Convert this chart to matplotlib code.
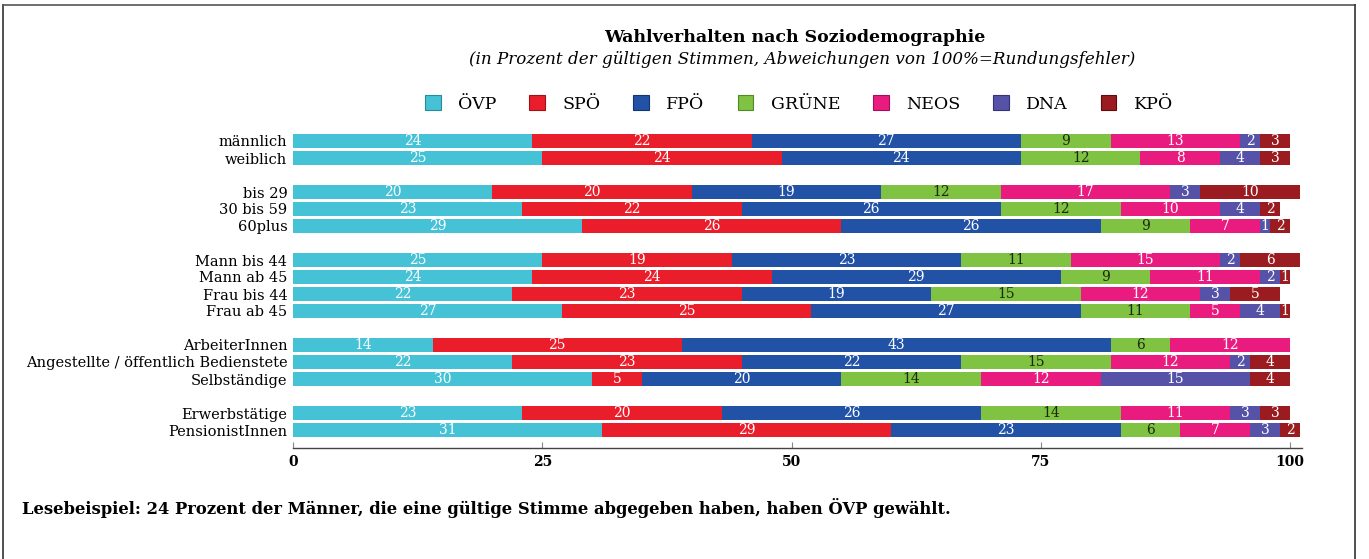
import matplotlib
matplotlib.use("Agg")
import matplotlib.pyplot as plt
from matplotlib.patches import Patch
from matplotlib.lines import Line2D
import numpy as np

plt.rcParams['font.family'] = ['DejaVu Serif']

# ---- data ----
categories = ['männlich', 'weiblich',
              'bis 29', '30 bis 59', '60plus',
              'Mann bis 44', 'Mann ab 45', 'Frau bis 44', 'Frau ab 45',
              'ArbeiterInnen', 'Angestellte / öffentlich Bedienstete', 'Selbständige',
              'Erwerbstätige', 'PensionistInnen']
# group index of each category (a blank row sits between groups)
groups = [0, 0, 1, 1, 1, 2, 2, 2, 2, 3, 3, 3, 4, 4]

parties = ['ÖVP', 'SPÖ', 'FPÖ', 'GRÜNE', 'NEOS', 'DNA', 'KPÖ']
oevp = [24, 25, 20, 23, 29, 25, 24, 22, 27, 14, 22, 30, 23, 31]
spoe = [22, 24, 20, 22, 26, 19, 24, 23, 25, 25, 23, 5, 20, 29]
fpoe = [27, 24, 19, 26, 26, 23, 29, 19, 27, 43, 22, 20, 26, 23]
gruene = [9, 12, 12, 12, 9, 11, 9, 15, 11, 6, 15, 14, 14, 6]
neos = [13, 8, 17, 10, 7, 15, 11, 12, 5, 12, 12, 12, 11, 7]
dna = [2, 4, 3, 4, 1, 2, 2, 3, 4, 0, 2, 15, 3, 3]
kpoe = [3, 3, 10, 2, 2, 6, 1, 5, 1, 0, 4, 4, 3, 2]
series = [oevp, spoe, fpoe, gruene, neos, dna, kpoe]

colors = ['#45c2d5', '#ea1d2a', '#2152a6', '#80c242', '#ea1b7e', '#5552a8', '#9a1c20']
edge_colors = ['#2a8a98', '#a01018', '#133570', '#4f8a22', '#a0105a', '#35327a', '#5e0c10']
label_colors = ['white', 'white', 'white', '#1a2a10', 'white', 'white', 'white']

# ---- figure ----
W, H = 1369, 559
fig = plt.figure(figsize=(W / 100, H / 100), dpi=100)

ax_left, ax_right = 293, 1302
ax_top, ax_bottom = 131, 448
ax = fig.add_axes([ax_left / W, 1 - ax_bottom / H,
                   (ax_right - ax_left) / W, (ax_bottom - ax_top) / H])

ypos = np.arange(len(categories)) + np.array(groups)

left = np.zeros(len(categories))
for vals, col, lcol in zip(series, colors, label_colors):
    vals = np.array(vals, dtype=float)
    ax.barh(ypos, vals, left=left, height=0.82, color=col, edgecolor='none')
    for y, l, v in zip(ypos, left, vals):
        if v > 0:
            ax.text(l + v / 2, y, f'{int(v)}', ha='center', va='center',
                    fontsize=10, color=lcol)
    left += vals

ax.set_xlim(0, 101.2)
ax.set_ylim(17 + (ax_bottom - 430) / 17, -(141 - ax_top) / 17)
ax.set_yticks(ypos)
ax.set_yticklabels(categories, fontsize=10.5)
ax.tick_params(axis='y', length=0, pad=4)
ax.set_xticks([0, 25, 50, 75, 100])
ax.set_xticklabels(['0', '25', '50', '75', '100'], fontsize=10, fontweight='bold')
ax.tick_params(axis='x', direction='in', length=4, width=0.8, color='#888888', pad=5)
for s in ['top', 'right', 'left']:
    ax.spines[s].set_visible(False)
ax.spines['bottom'].set_color('#444444')
ax.spines['bottom'].set_linewidth(1.0)

# ---- titles ----
fig.text(795 / W, 1 - 37 / H, 'Wahlverhalten nach Soziodemographie',
         ha='center', va='center', fontsize=12.5, fontweight='bold')
fig.text(802 / W, 1 - 60 / H,
         '(in Prozent der gültigen Stimmen, Abweichungen von 100%=Rundungsfehler)',
         ha='center', va='center', fontsize=12.1, style='italic')

handles = [Patch(facecolor=c, edgecolor=e, linewidth=0.8) for c, e in zip(colors, edge_colors)]
fig.legend(handles, parties, loc='center', bbox_to_anchor=(799 / W, 1 - 104 / H),
           ncol=7, frameon=False, fontsize=12.5, handlelength=0.9, handleheight=0.9,
           handletextpad=1.0, columnspacing=1.9)

fig.text(22 / W, 1 - 508 / H,
         'Lesebeispiel: 24 Prozent der Männer, die eine gültige Stimme abgegeben haben, haben ÖVP gewählt.',
         ha='left', va='center', fontsize=11.8, fontweight='bold')

# frame lines (left, top, right)
fig.add_artist(Line2D([3 / W, 3 / W], [0, 1 - 5 / H], transform=fig.transFigure, color='#333333', lw=1.2))
fig.add_artist(Line2D([3 / W, 1355 / W], [1 - 5 / H, 1 - 5 / H], transform=fig.transFigure, color='#555555', lw=1.2))
fig.add_artist(Line2D([1355 / W, 1355 / W], [0, 1 - 5 / H], transform=fig.transFigure, color='#333333', lw=1.2))

fig.savefig('out.png', dpi=100, facecolor='white')
